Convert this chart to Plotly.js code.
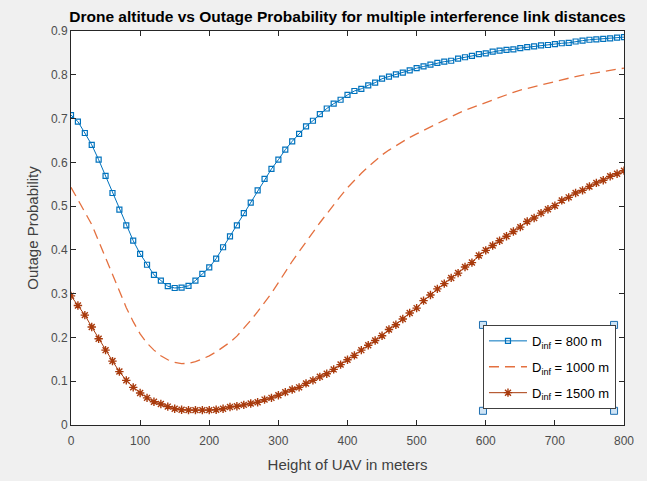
<!DOCTYPE html>
<html>
<head>
<meta charset="utf-8">
<script src="https://cdn.plot.ly/plotly-3.0.1.min.js"></script>
<style>
html,body{margin:0;padding:0;background:#f0f0f0;}
#chart{width:647px;height:481px;}
</style>
</head>
<body>
<div id="chart"></div>
<script>
// Heights of UAV (m), 0..800 step 10
const heights = [0,10,20,30,40,50,60,70,80,90,100,110,120,130,140,150,160,170,180,190,200,210,220,230,240,250,260,270,280,290,300,310,320,330,340,350,360,370,380,390,400,410,420,430,440,450,460,470,480,490,500,510,520,530,540,550,560,570,580,590,600,610,620,630,640,650,660,670,680,690,700,710,720,730,740,750,760,770,780,790,800];

const outage800 = [0.708,0.693,0.667,0.640,0.606,0.569,0.530,0.492,0.456,0.421,0.391,0.366,0.343,0.330,0.317,0.313,0.314,0.318,0.330,0.345,0.360,0.380,0.406,0.431,0.456,0.484,0.508,0.536,0.562,0.585,0.606,0.629,0.648,0.665,0.682,0.695,0.710,0.723,0.734,0.743,0.754,0.763,0.768,0.776,0.782,0.791,0.796,0.801,0.805,0.810,0.815,0.819,0.823,0.827,0.830,0.832,0.837,0.840,0.843,0.847,0.849,0.853,0.855,0.857,0.858,0.861,0.863,0.865,0.867,0.868,0.870,0.872,0.873,0.876,0.878,0.880,0.881,0.882,0.883,0.885,0.886];

const outage1000 = [0.543,0.515,0.488,0.458,0.420,0.382,0.343,0.305,0.268,0.236,0.208,0.187,0.171,0.158,0.149,0.143,0.140,0.141,0.145,0.151,0.158,0.167,0.177,0.189,0.203,0.220,0.239,0.259,0.279,0.301,0.325,0.350,0.374,0.396,0.417,0.440,0.462,0.483,0.503,0.523,0.542,0.559,0.575,0.590,0.604,0.617,0.628,0.638,0.648,0.657,0.665,0.673,0.681,0.689,0.697,0.705,0.712,0.719,0.725,0.731,0.737,0.743,0.749,0.755,0.760,0.765,0.769,0.773,0.777,0.781,0.785,0.789,0.793,0.796,0.799,0.802,0.805,0.808,0.810,0.813,0.815];

const outage1500 = [0.295,0.273,0.251,0.224,0.197,0.171,0.146,0.122,0.102,0.086,0.073,0.062,0.053,0.048,0.042,0.037,0.035,0.034,0.034,0.034,0.034,0.035,0.037,0.041,0.043,0.046,0.049,0.052,0.058,0.062,0.068,0.075,0.081,0.086,0.095,0.102,0.110,0.117,0.127,0.138,0.149,0.159,0.171,0.182,0.193,0.204,0.218,0.229,0.242,0.256,0.267,0.284,0.297,0.311,0.323,0.336,0.347,0.361,0.371,0.387,0.399,0.410,0.421,0.431,0.442,0.452,0.465,0.473,0.484,0.493,0.501,0.513,0.520,0.530,0.536,0.545,0.553,0.559,0.568,0.574,0.581];

const seriesNames = ['D<sub>inf</sub> = 800 m','D<sub>inf</sub> = 1000 m','D<sub>inf</sub> = 1500 m'];
const xTicks = [0,100,200,300,400,500,600,700,800];
const yTicks = [0,0.1,0.2,0.3,0.4,0.5,0.6,0.7,0.8,0.9];
const yTickText = ['0','0.1','0.2','0.3','0.4','0.5','0.6','0.7','0.8','0.9'];

const FONT = 'Liberation Sans, Arial, Helvetica, sans-serif';

const traces = [
  {x: heights, y: outage800, name: seriesNames[0], legendgroup: 'a', type: 'scatter', mode: 'lines+markers',
   line: {color: '#0072BD', width: 1},
   marker: {symbol: 'square-open', size: 5, color: '#0072BD', line: {width: 1.2, color: '#0072BD'}}},
  {x: heights, y: outage1000, name: seriesNames[1], legendgroup: 'b', type: 'scatter', mode: 'lines',
   line: {color: '#E4703F', width: 1.3, dash: '10px,6px'}},
  {x: heights, y: outage1500, name: seriesNames[2], legendgroup: 'c', type: 'scatter', mode: 'lines+markers',
   line: {color: '#A83A0C', width: 1},
   marker: {symbol: 'asterisk-open', size: 7, color: '#A83A0C', line: {width: 1.4, color: '#A83A0C'}}}
];

// Legend selection handles (corner squares), in plot-area fractions
const hw = 0.0127, hh = 0.0178;
const hx = [0.745, 0.982], hy = [0.254, 0.036];
const shapes = [];
hx.forEach(px => hy.forEach(py => {
  shapes.push({type: 'rect', xref: 'paper', yref: 'paper',
    x0: px - hw/2, x1: px + hw/2, y0: py - hh/2, y1: py + hh/2,
    fillcolor: '#cfe4f5', line: {color: '#1f6fb0', width: 1}, layer: 'above'});
}));

const layout = {
  width: 647, height: 481,
  paper_bgcolor: '#f0f0f0', plot_bgcolor: '#ffffff',
  margin: {l: 71, r: 23, t: 31, b: 56},
  font: {family: FONT, size: 12, color: '#404040'},
  title: {text: '<b>Drone altitude vs Outage Probability for multiple interference link distances</b>',
          font: {family: FONT, size: 15.5, color: '#000000'}, x: 0.537, xanchor: 'center', y: 0.965, yanchor: 'middle'},
  xaxis: {range: [0, 800], tickvals: xTicks, ticks: 'inside', ticklen: 5, tickcolor: '#262626',
          showline: true, linecolor: '#262626', linewidth: 1, mirror: 'ticks', showgrid: false, zeroline: false,
          tickfont: {size: 12, color: '#4d4d4d'}, ticklabelstandoff: 5,
          title: {text: 'Height of UAV in meters', font: {size: 15, color: '#404040'}, standoff: 12}},
  yaxis: {range: [0, 0.9], tickvals: yTicks, ticktext: yTickText, ticks: 'inside', ticklen: 5, tickcolor: '#262626',
          showline: true, linecolor: '#262626', linewidth: 1, mirror: 'ticks', showgrid: false, zeroline: false,
          tickfont: {size: 12, color: '#4d4d4d'},
          title: {text: 'Outage Probability', font: {size: 15, color: '#404040'}, standoff: 8}},
  legend: {x: 0.745, y: 0.254, xanchor: 'left', yanchor: 'top', bgcolor: '#ffffff',
           bordercolor: '#404040', borderwidth: 1, font: {size: 13, color: '#000000'},
           tracegroupgap: 6, itemwidth: 38},
  shapes: shapes,
  showlegend: true
};

Plotly.newPlot('chart', traces, layout, {displayModeBar: false, staticPlot: true});
</script>
</body>
</html>
